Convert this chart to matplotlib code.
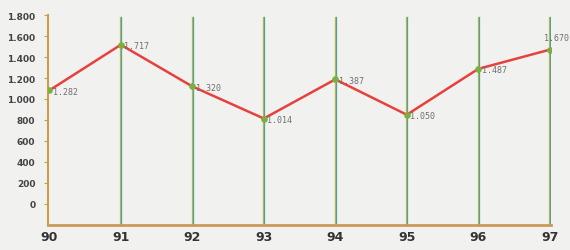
import matplotlib.pyplot as plt

years = [90, 91, 92, 93, 94, 95, 96, 97]
values = [1282, 1717, 1320, 1014, 1387, 1050, 1487, 1670]
# axis labels in the original are shifted: label "0" sits at 200
tick_pos = [200, 400, 600, 800, 1000, 1200, 1400, 1600, 1800, 2000]
tick_labels = ['0', '200', '400', '600', '800', '1.000', '1.200', '1.400', '1.600', '1.800']

fig = plt.figure(figsize=(5.7, 2.51), dpi=100, facecolor='#f1f1f0')
ax = fig.add_axes([0.084, 0.1, 0.883, 0.836])
ax.set_facecolor('#f1f1f0')

# vertical guide lines (two-tone, like the printed original)
for x in years[1:]:
    ax.plot([x - 0.007, x - 0.007], [0, 1985], color='#b5c050', lw=0.9, zorder=1)
    ax.plot([x + 0.007, x + 0.007], [0, 1985], color='#5b9c98', lw=0.9, zorder=1)

ax.plot(years, values, color='#e8403c', lw=1.8, zorder=3)
ax.scatter(years, values, s=14, color='#7ab040', zorder=4)

for i, (x, v) in enumerate(zip(years, values)):
    txt = f'{v // 1000}.{v % 1000:03d}'
    if i == len(years) - 1:
        ax.text(x - 0.08, v + 70, txt, fontsize=6, family='DejaVu Sans Mono',
                color='#707070', va='bottom', ha='left')
    else:
        ax.text(x + 0.05, v - 10, txt, fontsize=6, family='DejaVu Sans Mono',
                color='#707070', va='center', ha='left')

ax.set_xlim(89.98, 97.02)
ax.set_ylim(0, 2000)
ax.set_xticks(years)
ax.set_xticklabels([str(y) for y in years], fontsize=9, fontweight='bold', color='#333333')
ax.set_yticks(tick_pos)
ax.set_yticklabels(tick_labels, fontsize=6.5, fontweight='bold', color='#444444')
ax.tick_params(axis='x', length=0, pad=4)
ax.tick_params(axis='y', length=3, color='#c8a048', pad=6)

for s in ['top', 'right']:
    ax.spines[s].set_visible(False)
ax.spines['left'].set_color('#c8a048')
ax.spines['left'].set_linewidth(1.5)
ax.spines['bottom'].set_color('#c99a5a')
ax.spines['bottom'].set_linewidth(2)

fig.savefig('out.png', dpi=100, facecolor=fig.get_facecolor())
